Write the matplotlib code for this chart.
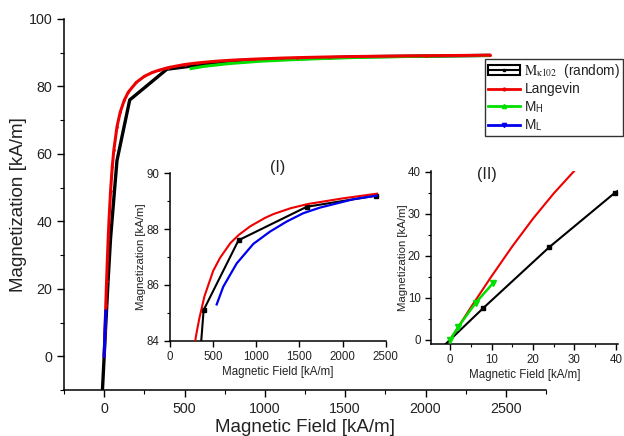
import matplotlib
matplotlib.use("Agg")
import matplotlib.pyplot as plt
from matplotlib.lines import Line2D
from matplotlib.patches import Rectangle
from matplotlib.legend_handler import HandlerTuple
from matplotlib.ticker import MultipleLocator

plt.rcParams['font.family'] = ['Liberation Sans', 'DejaVu Sans']
plt.rcParams['mathtext.fontset'] = 'stix'

# ---- data (kA/m) ----
mk_h = [-23.9, -7.96, 7.96, 23.9, 39.8, 79.6, 159, 390, 794, 1585, 2390]
mk_m = [-22.0, -7.5, 7.5, 22.0, 35.0, 58.0, 76.0, 85.1, 87.6, 88.8, 89.2]

lang_h = [0, 5, 10, 15, 20, 25, 30, 40, 50, 60, 80, 100, 125, 150, 200, 250,
          300, 340, 400, 500, 580, 700, 800, 930, 1100, 1200, 1400, 1600, 2000, 2400]
lang_m = [0, 7.7, 15.1, 22.2, 28.8, 34.8, 40.2, 49.1, 56.0, 61.1, 68.1, 72.4,
          75.9, 78.3, 81.2, 83.0, 84.15, 84.8, 85.6, 86.5, 86.97, 87.5, 87.8,
          88.1, 88.4, 88.54, 88.75, 88.9, 89.1, 89.27]

high_h = [541, 618, 773, 966, 1159, 1352, 1545, 1738, 1932, 2125, 2396]
high_m = [85.30, 85.94, 86.77, 87.47, 87.91, 88.27, 88.57, 88.77, 88.92, 89.07, 89.20]

low_h = [0, 2, 6.2, 10.3]
low_m = [0, 3.1, 8.8, 13.4]

labels = [r"$\mathrm{M}_{\mathrm{\kappa102}}$  (random)", "Langevin",
          r"M$_\mathregular{H}$", r"M$_\mathregular{L}$"]

TXT = '#222222'
RED = '#ee0000'
GREEN = '#00e000'
BLUE = '#0000ee'

fig = plt.figure(figsize=(6.24, 4.36), dpi=100)

def style(ax, fs):
    for s in ['top', 'right']:
        ax.spines[s].set_visible(False)
    for s in ['left', 'bottom']:
        ax.spines[s].set_linewidth(1.1)
    ax.tick_params(which='major', direction='out', length=5, width=1, labelsize=fs,
                   colors='black', labelcolor=TXT)
    ax.tick_params(which='minor', direction='out', length=3, width=0.8)

# ---- main axes ----
ax = fig.add_axes([64/624, 46/436, 482/624, 371/436])
ax.plot(mk_h, mk_m, color='black', lw=2.4, zorder=2)
ax.plot(high_h, high_m, color=GREEN, lw=2.2, zorder=3)
ax.plot(lang_h, lang_m, color=RED, lw=2.2, marker='.', ms=2, zorder=4)
ax.plot(low_h, low_m, color=BLUE, lw=2.2, zorder=5)
ax.set_xlim(-250, 2750)
ax.set_ylim(-10, 100)
ax.xaxis.set_major_locator(MultipleLocator(500))
ax.xaxis.set_minor_locator(MultipleLocator(250))
ax.yaxis.set_major_locator(MultipleLocator(20))
ax.yaxis.set_minor_locator(MultipleLocator(10))
style(ax, 10.3)
ax.set_xlabel("Magnetic Field [kA/m]", fontsize=13.5, color=TXT, labelpad=2)
ax.set_ylabel("Magnetization [kA/m]", fontsize=13.5, color=TXT, labelpad=1)

# legend
h_mk = (Rectangle((0, 0), 1, 1, facecolor='white', edgecolor='black', lw=1.5),
        Line2D([], [], color='black', lw=1.5, marker='s', ms=2))
h_l = Line2D([], [], color=RED, lw=2, marker='.', ms=4)
h_h = Line2D([], [], color=GREEN, lw=2, marker='^', ms=3)
h_lo = Line2D([], [], color=BLUE, lw=2, marker='v', ms=3)
leg = fig.legend([h_mk, h_l, h_h, h_lo], labels,
                 handler_map={tuple: HandlerTuple(ndivide=1)},
                 loc='upper left', bbox_to_anchor=(485/624, 1 - 59/436),
                 fontsize=9.8, frameon=True, fancybox=False, framealpha=1,
                 edgecolor='#333333', borderpad=0.2, labelspacing=0.2,
                 handlelength=2.4, handletextpad=0.3, borderaxespad=0)
leg.get_frame().set_linewidth(1.0)
for t in leg.get_texts():
    t.set_color(TXT)

# ---- inset I ----
a1 = fig.add_axes([170/624, (436-340.7)/436, 215.7/624, 167.4/436])
a1.plot(mk_h, mk_m, color='black', lw=1.5, marker='s', ms=3.5, zorder=2)
a1.plot(lang_h, lang_m, color=RED, lw=1.5, zorder=3)
a1.plot(high_h, high_m, color=BLUE, lw=1.6, zorder=4)
a1.set_xlim(0, 2500)
a1.set_ylim(84, 90)
a1.xaxis.set_major_locator(MultipleLocator(500))
a1.yaxis.set_major_locator(MultipleLocator(2))
a1.yaxis.set_minor_locator(MultipleLocator(1))
style(a1, 8.3)
a1.tick_params(which='major', length=4)
a1.tick_params(which='minor', length=2)
a1.set_xlabel("Magnetic Field [kA/m]", fontsize=8.3, color=TXT, labelpad=2)
a1.set_ylabel("Magnetization [kA/m]", fontsize=8.2, color=TXT, labelpad=0.5)
a1.text(0.50, 1.035, "(I)", transform=a1.transAxes, fontsize=11.5, color=TXT,
        ha='center', va='center')

# ---- inset II ----
a2 = fig.add_axes([431/624, (436-344)/436, 187/624, 173.3/436])
a2.plot(mk_h, mk_m, color='black', lw=1.5, marker='s', ms=3.5, zorder=2)
a2.plot(lang_h, lang_m, color=RED, lw=1.5, zorder=3)
a2.plot(low_h, low_m, color=GREEN, lw=1.8, marker='v', ms=5, zorder=4)
a2.set_xlim(-4.6, 40.5)
a2.set_ylim(-1, 40.2)
a2.xaxis.set_major_locator(MultipleLocator(10))
a2.xaxis.set_minor_locator(MultipleLocator(5))
a2.yaxis.set_major_locator(MultipleLocator(10))
a2.yaxis.set_minor_locator(MultipleLocator(5))
style(a2, 8.3)
a2.tick_params(which='major', length=4)
a2.tick_params(which='minor', length=2)
a2.set_xlabel("Magnetic Field [kA/m]", fontsize=8.3, color=TXT, labelpad=2)
a2.set_ylabel("Magnetization [kA/m]", fontsize=8.2, color=TXT, labelpad=0)
a2.text(0.30, 0.98, "(II)", transform=a2.transAxes, fontsize=11.5, color=TXT,
        ha='center', va='center')

fig.savefig("out.png", dpi=100)
